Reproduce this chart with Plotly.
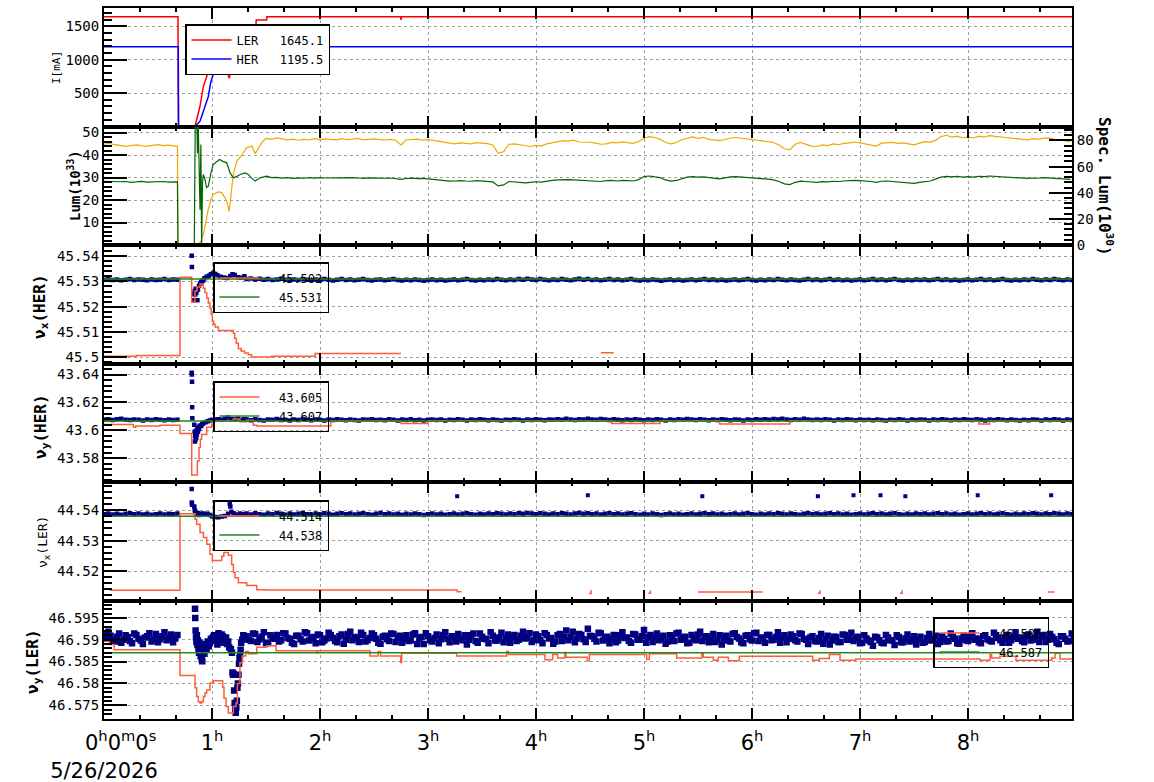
import plotly.graph_objects as go
from plotly.subplots import make_subplots

NB = "\u00a0"


def grid(start, step, n):
    return [round(start + step * i, 3) for i in range(n)]


def unzip(pairs):
    return [p[0] for p in pairs], [p[1] for p in pairs]


# ---------------- time axis (hours) ----------------
T_END = 8.963
hour_vals = [0, 1, 2, 3, 4, 5, 6, 7, 8]
hour_text = [NB * 5 + "0<sup>h</sup>0<sup>m</sup>0<sup>s</sup><br>5/26/2026"] + ["%d<sup>h</sup>" % h for h in hour_vals[1:]]

# ---------------- panel 1 : beam currents [mA] ----------------
ler_t = [0, 0.685, 0.687, 0.69, 0.843, 0.889, 0.92, 0.966, 1.003, 1.034, 1.09, 1.13, 1.16, 1.176, 1.197,
         1.305, 1.307, 1.407, 1.409, 1.506, 1.508, 2.745, 2.75, 2.755, 4.995, 5.0, 5.005, T_END]
ler_v = [1645, 1645, 580, 0, 0, 303, 600, 823, 965, 1000, 1000, 880, 723, 848, 1404,
         1404, 1495, 1495, 1596, 1596, 1645, 1645, 1600, 1645, 1645, 1610, 1645, 1645.1]
her_t = [0, 0.688, 0.69, 0.843, 0.889, 0.926, 0.966, 0.988, 1.012, 1.188, 1.213, 1.244, 1.319, 1.321, T_END]
her_v = [1195.5, 1195.5, 0, 0, 80, 257, 450, 661, 787, 787, 1040, 1130, 1130, 1195.5, 1195.5]

# ---------------- panel 2 : luminosity ----------------
lum_pre = [44.8, 45.2, 44.6, 44.3, 43.9, 44.2, 44.5, 44.1, 44.0, 44.3, 44.6, 44.2, 44.4, 44.0]
lum_burst = [(0.68, 44.0), (0.685, 0.0), (0.873, 0.0), (0.90, 2.0), (0.92, 4.8), (0.94, 9.5), (0.966, 15.9),
             (0.99, 20.0), (1.01, 22.5), (1.06, 23.6), (1.09, 23.3), (1.136, 19.6), (1.16, 14.8), (1.18, 24.0),
             (1.197, 31.4), (1.23, 37.3), (1.27, 39.6), (1.32, 43.3), (1.37, 44.0), (1.40, 40.6), (1.43, 43.3),
             (1.46, 45.5), (1.50, 47.4), (1.55, 47.0), (1.60, 47.6)]
lum_post = [47.2, 46.8, 47.1, 46.6, 47.0, 46.7, 47.3, 46.9, 47.2, 47.0, 46.8, 47.3, 46.9, 47.1, 47.4, 46.8,
            47.0, 47.2, 46.9, 46.7, 47.0, 46.6, 44.5, 46.8, 46.9, 47.1, 46.6, 46.8, 46.5, 46.0, 45.6, 45.3,
            45.0, 45.4, 45.2, 45.0, 45.5, 45.3, 45.1, 44.5, 40.8, 41.5, 44.8, 45.0, 44.6, 44.2, 43.8, 44.3,
            44.0, 45.0, 45.5, 46.0, 46.4, 46.2, 46.6, 45.8, 45.9, 45.7, 45.3, 44.8, 45.0, 45.6, 45.4, 45.9,
            45.5, 45.2, 46.0, 47.5, 48.2, 47.8, 47.0, 45.6, 45.0, 45.6, 46.8, 47.6, 48.1, 47.4, 47.9, 47.0,
            46.8, 46.4, 46.9, 47.6, 47.8, 47.5, 47.2, 46.8, 46.5, 46.4, 46.0, 45.6, 44.5, 42.8, 42.3, 44.8,
            45.6, 44.9, 44.0, 43.8, 44.5, 44.2, 45.0, 44.6, 45.2, 45.4, 45.8, 45.4, 45.0, 44.6, 44.0, 45.3,
            45.5, 45.6, 45.2, 45.4, 45.0, 44.5, 45.3, 46.0, 45.8, 46.5, 48.2, 48.8, 48.0, 48.4, 47.6, 48.0,
            47.6, 48.4, 48.0, 48.6, 48.3, 48.2, 47.8, 47.5, 47.2, 47.0, 46.8, 47.3, 47.0, 47.5, 47.6, 47.0,
            46.9, 46.3, 45.8]
spec_pre = [48.8, 48.5, 48.2, 48.4, 48.6, 48.0, 48.3, 48.7, 48.2, 48.5, 48.3, 48.6, 48.1, 48.4]
spec_burst = [(0.68, 48.3), (0.685, 0.0), (0.836, 0.0), (0.845, 95.0), (0.86, 95.0), (0.865, 70.0), (0.872, 95.0),
              (0.889, 27.0), (0.897, 77.0), (0.904, 0.0), (0.912, 48.0), (0.92, 54.0), (0.935, 50.0), (0.95, 44.0),
              (0.966, 45.0), (0.99, 55.0), (1.01, 61.6), (1.04, 63.5), (1.07, 65.4), (1.10, 64.0), (1.136, 62.9),
              (1.167, 55.2), (1.198, 51.4), (1.23, 52.5), (1.26, 54.0), (1.305, 55.2), (1.336, 54.0), (1.37, 51.0),
              (1.40, 48.9), (1.444, 51.4), (1.506, 52.7), (1.55, 51.6), (1.60, 51.8)]
spec_post = [51.2, 51.6, 51.0, 51.4, 51.1, 51.5, 51.2, 51.6, 51.3, 51.4, 51.0, 51.5, 51.2, 51.6, 51.3, 51.0,
             51.4, 51.2, 51.5, 51.1, 51.3, 50.8, 50.2, 50.9, 51.2, 50.8, 51.0, 50.6, 50.2, 49.6, 49.2, 48.9,
             49.0, 49.3, 49.0, 48.8, 49.2, 49.0, 48.8, 48.3, 45.2, 46.0, 48.6, 48.4, 48.0, 47.6, 48.0, 48.4,
             48.2, 49.0, 49.5, 49.8, 50.1, 50.0, 49.8, 49.5, 49.4, 49.0, 48.8, 48.6, 49.3, 49.5, 49.0, 49.4,
             49.2, 49.0, 50.0, 52.4, 52.8, 52.3, 51.6, 49.8, 48.9, 49.4, 51.0, 52.0, 52.4, 52.0, 52.2, 51.8,
             51.0, 50.6, 51.4, 52.2, 52.3, 52.0, 52.1, 51.6, 51.0, 50.8, 50.4, 49.8, 48.6, 46.8, 46.2, 48.0,
             48.9, 48.6, 48.2, 48.0, 48.5, 48.3, 48.8, 48.6, 49.0, 49.3, 49.4, 49.2, 49.0, 48.6, 48.0, 48.8,
             49.0, 48.6, 48.2, 47.8, 47.6, 47.2, 48.0, 48.6, 49.0, 50.4, 52.0, 52.5, 52.2, 52.6, 52.0, 52.3,
             52.0, 52.6, 52.4, 52.8, 52.5, 52.2, 51.8, 51.6, 51.2, 51.4, 51.0, 51.3, 51.1, 51.5, 51.2, 50.8,
             51.0, 50.6, 50.2]

# ---------------- tune panels : measured tune points ----------------
nux_her_pre = [45.5307, 45.5309, 45.5306, 45.5308, 45.5305, 45.5307, 45.5309, 45.5306, 45.5308, 45.5307,
               45.5305, 45.5308, 45.5306, 45.5307, 45.5309, 45.5306, 45.5308, 45.5307]
nux_her_burst = [(0.812, 45.5401), (0.814, 45.5357), (0.83, 45.5225), (0.835, 45.5250), (0.84, 45.5262),
                 (0.845, 45.5248), (0.85, 45.5271), (0.855, 45.5255), (0.86, 45.5265), (0.865, 45.5225),
                 (0.87, 45.5268), (0.88, 45.5283), (0.89, 45.5292), (0.90, 45.5298), (0.91, 45.5302),
                 (0.92, 45.5305), (0.93, 45.5312), (0.95, 45.5318), (0.97, 45.5322), (0.99, 45.5328),
                 (1.01, 45.5333), (1.03, 45.5329), (1.05, 45.5324), (1.08, 45.5318), (1.11, 45.5315),
                 (1.14, 45.5313), (1.17, 45.5321), (1.19, 45.5328), (1.21, 45.5325), (1.24, 45.5316),
                 (1.27, 45.5314), (1.30, 45.5320)]
nux_her_post = [
    45.5309, 45.5311, 45.5308, 45.5310, 45.5307, 45.5309, 45.5306, 45.5308, 45.5310, 45.5307, 45.5305, 45.5308,
    45.5306, 45.5309, 45.5307, 45.5305, 45.5308, 45.5306, 45.5309, 45.5307, 45.5304, 45.5307, 45.5309, 45.5306,
    45.5308, 45.5305, 45.5307, 45.5309, 45.5306, 45.5304, 45.5307, 45.5308, 45.5305, 45.5307, 45.5309, 45.5306,
    45.5304, 45.5307, 45.5305, 45.5308, 45.5306, 45.5303, 45.5306, 45.5308, 45.5305, 45.5307, 45.5304, 45.5306,
    45.5308, 45.5305, 45.5307, 45.5309, 45.5306, 45.5304, 45.5307, 45.5305, 45.5308, 45.5306, 45.5309, 45.5307,
    45.5305, 45.5308, 45.5306, 45.5309, 45.5307, 45.5310, 45.5308, 45.5306, 45.5309, 45.5307, 45.5305, 45.5308,
    45.5306, 45.5309, 45.5307, 45.5305, 45.5308, 45.5310, 45.5307, 45.5309, 45.5306, 45.5308, 45.5305, 45.5307,
    45.5309, 45.5306, 45.5308, 45.5305, 45.5307, 45.5309, 45.5306, 45.5304, 45.5307, 45.5305, 45.5308, 45.5306,
    45.5303, 45.5306, 45.5308, 45.5305, 45.5307, 45.5304, 45.5306, 45.5308, 45.5305, 45.5307, 45.5309, 45.5306,
    45.5308, 45.5305, 45.5307, 45.5304, 45.5306, 45.5308, 45.5305, 45.5307, 45.5309, 45.5306, 45.5304, 45.5307,
    45.5305, 45.5308, 45.5306, 45.5309, 45.5307, 45.5305, 45.5308, 45.5306, 45.5304, 45.5307, 45.5309, 45.5306,
    45.5308, 45.5305, 45.5307, 45.5309, 45.5306, 45.5308, 45.5305, 45.5307, 45.5304, 45.5306, 45.5308, 45.5305,
    45.5307, 45.5309, 45.5306, 45.5308, 45.5305, 45.5307, 45.5309, 45.5306, 45.5304, 45.5307, 45.5305, 45.5308,
    45.5306, 45.5308, 45.5305, 45.5307, 45.5309, 45.5306, 45.5308, 45.5305, 45.5307, 45.5304, 45.5306, 45.5308,
    45.5305, 45.5307, 45.5309, 45.5306, 45.5308, 45.5305, 45.5307, 45.5309, 45.5306, 45.5304, 45.5307, 45.5305,
    45.5308, 45.5306, 45.5309, 45.5307, 45.5305, 45.5308, 45.5306, 45.5309, 45.5307, 45.5305, 45.5308, 45.5306]

nuy_her_pre = [43.6077, 43.6080, 43.6074, 43.6079, 43.6082, 43.6076, 43.6073, 43.6078, 43.6075, 43.6071,
               43.6077, 43.6074, 43.6079, 43.6076, 43.6072, 43.6078, 43.6074, 43.6076]
nuy_her_burst = [(0.812, 43.6412), (0.813, 43.6400), (0.815, 43.6348), (0.816, 43.6166), (0.818, 43.6086),
                 (0.836, 43.6040), (0.839, 43.5990), (0.842, 43.5920), (0.845, 43.5960), (0.848, 43.5935),
                 (0.851, 43.5985), (0.854, 43.5945), (0.857, 43.6000), (0.86, 43.5970), (0.865, 43.6010),
                 (0.87, 43.5990), (0.875, 43.6025), (0.88, 43.6010), (0.89, 43.6035), (0.90, 43.6030),
                 (0.91, 43.6045), (0.92, 43.6050), (0.94, 43.6058), (0.96, 43.6065), (0.98, 43.6070),
                 (1.00, 43.6075), (1.03, 43.6078), (1.06, 43.6080), (1.09, 43.6075), (1.12, 43.6085),
                 (1.15, 43.6092), (1.18, 43.6080), (1.21, 43.6078), (1.24, 43.6083), (1.27, 43.6076),
                 (1.30, 43.6079)]
nuy_her_post = [
    43.6077, 43.6072, 43.6079, 43.6074, 43.6070, 43.6078, 43.6075, 43.6081, 43.6073, 43.6076, 43.6071, 43.6078,
    43.6074, 43.6080, 43.6076, 43.6072, 43.6078, 43.6075, 43.6070, 43.6077, 43.6073, 43.6079, 43.6076, 43.6072,
    43.6078, 43.6074, 43.6071, 43.6077, 43.6075, 43.6080, 43.6073, 43.6076, 43.6072, 43.6079, 43.6075, 43.6071,
    43.6077, 43.6074, 43.6079, 43.6072, 43.6076, 43.6070, 43.6075, 43.6078, 43.6073, 43.6077, 43.6071, 43.6076,
    43.6073, 43.6079, 43.6075, 43.6071, 43.6078, 43.6074, 43.6080, 43.6076, 43.6072, 43.6078, 43.6074, 43.6070,
    43.6076, 43.6073, 43.6079, 43.6075, 43.6071, 43.6077, 43.6074, 43.6080, 43.6076, 43.6072, 43.6078, 43.6075,
    43.6079, 43.6076, 43.6082, 43.6078, 43.6074, 43.6080, 43.6077, 43.6083, 43.6078, 43.6075, 43.6081, 43.6077,
    43.6073, 43.6079, 43.6076, 43.6072, 43.6078, 43.6074, 43.6080, 43.6076, 43.6072, 43.6077, 43.6074, 43.6079,
    43.6075, 43.6071, 43.6077, 43.6073, 43.6079, 43.6075, 43.6081, 43.6077, 43.6073, 43.6079, 43.6076, 43.6072,
    43.6078, 43.6074, 43.6080, 43.6076, 43.6072, 43.6078, 43.6075, 43.6071, 43.6077, 43.6074, 43.6080, 43.6076,
    43.6079, 43.6075, 43.6081, 43.6077, 43.6083, 43.6078, 43.6074, 43.6080, 43.6076, 43.6082, 43.6078, 43.6074,
    43.6077, 43.6073, 43.6079, 43.6075, 43.6071, 43.6077, 43.6074, 43.6079, 43.6075, 43.6072, 43.6078, 43.6074,
    43.6076, 43.6072, 43.6078, 43.6074, 43.6070, 43.6076, 43.6073, 43.6079, 43.6075, 43.6071, 43.6077, 43.6074,
    43.6078, 43.6075, 43.6071, 43.6077, 43.6073, 43.6079, 43.6076, 43.6072, 43.6078, 43.6074, 43.6080, 43.6076,
    43.6073, 43.6079, 43.6075, 43.6071, 43.6077, 43.6074, 43.6080, 43.6076, 43.6072, 43.6078, 43.6074, 43.6070,
    43.6076, 43.6072, 43.6078, 43.6075, 43.6071, 43.6077, 43.6073, 43.6079, 43.6075, 43.6071, 43.6077, 43.6074]

nux_ler_pre = [44.5387, 44.5389, 44.5386, 44.5388, 44.5385, 44.5388, 44.5390, 44.5387, 44.5389, 44.5386,
               44.5388, 44.5385, 44.5387, 44.5389, 44.5386, 44.5388, 44.5387, 44.5389]
nux_ler_burst = [(0.812, 44.5470), (0.813, 44.5425), (0.815, 44.5418), (0.836, 44.5412), (0.84, 44.5400),
                 (0.845, 44.5395), (0.85, 44.5390), (0.855, 44.5385), (0.86, 44.5392), (0.865, 44.5387),
                 (0.87, 44.5390), (0.88, 44.5384), (0.89, 44.5388), (0.90, 44.5386), (0.92, 44.5389),
                 (0.94, 44.5385), (0.96, 44.5388), (0.98, 44.5384), (1.00, 44.5380), (1.03, 44.5378),
                 (1.06, 44.5377), (1.09, 44.5379), (1.12, 44.5381), (1.15, 44.5388), (1.165, 44.5421),
                 (1.17, 44.5412), (1.18, 44.5395), (1.20, 44.5390), (1.23, 44.5386), (1.26, 44.5389),
                 (1.29, 44.5387)]
nux_ler_post = [
    44.5389, 44.5386, 44.5390, 44.5387, 44.5385, 44.5389, 44.5387, 44.5391, 44.5388, 44.5385, 44.5389, 44.5386,
    44.5388, 44.5391, 44.5387, 44.5385, 44.5389, 44.5386, 44.5390, 44.5388, 44.5385, 44.5388, 44.5390, 44.5387,
    44.5389, 44.5386, 44.5388, 44.5390, 44.5387, 44.5385, 44.5388, 44.5391, 44.5387, 44.5389, 44.5386, 44.5388,
    44.5385, 44.5388, 44.5386, 44.5389, 44.5387, 44.5384, 44.5387, 44.5389, 44.5386, 44.5388, 44.5385, 44.5387,
    44.5389, 44.5386, 44.5388, 44.5390, 44.5387, 44.5385, 44.5388, 44.5386, 44.5389, 44.5387, 44.5390, 44.5388,
    44.5386, 44.5389, 44.5387, 44.5390, 44.5388, 44.5391, 44.5389, 44.5387, 44.5390, 44.5388, 44.5386, 44.5389,
    44.5387, 44.5390, 44.5388, 44.5386, 44.5389, 44.5391, 44.5388, 44.5390, 44.5387, 44.5389, 44.5386, 44.5388,
    44.5390, 44.5387, 44.5389, 44.5386, 44.5388, 44.5390, 44.5387, 44.5385, 44.5388, 44.5386, 44.5389, 44.5387,
    44.5384, 44.5387, 44.5389, 44.5386, 44.5388, 44.5385, 44.5387, 44.5389, 44.5386, 44.5388, 44.5390, 44.5387,
    44.5389, 44.5386, 44.5388, 44.5385, 44.5387, 44.5389, 44.5386, 44.5388, 44.5390, 44.5387, 44.5385, 44.5388,
    44.5386, 44.5389, 44.5387, 44.5390, 44.5388, 44.5386, 44.5389, 44.5387, 44.5385, 44.5388, 44.5390, 44.5387,
    44.5389, 44.5386, 44.5388, 44.5390, 44.5387, 44.5389, 44.5386, 44.5388, 44.5385, 44.5387, 44.5389, 44.5386,
    44.5388, 44.5390, 44.5387, 44.5389, 44.5386, 44.5388, 44.5390, 44.5387, 44.5385, 44.5388, 44.5386, 44.5389,
    44.5387, 44.5389, 44.5386, 44.5388, 44.5390, 44.5387, 44.5389, 44.5386, 44.5388, 44.5385, 44.5387, 44.5389,
    44.5386, 44.5388, 44.5390, 44.5387, 44.5389, 44.5386, 44.5388, 44.5390, 44.5387, 44.5385, 44.5388, 44.5386,
    44.5389, 44.5387, 44.5390, 44.5388, 44.5386, 44.5389, 44.5387, 44.5390, 44.5388, 44.5386, 44.5389, 44.5387]
nux_ler_outliers = [(3.27, 44.5446), (4.48, 44.5449), (5.54, 44.5446), (6.61, 44.5446), (6.94, 44.5449),
                    (7.19, 44.5449), (7.42, 44.5446), (8.09, 44.5449), (8.77, 44.5449)]

nuy_ler_pre = [46.5912, 46.5918, 46.5899, 46.5907, 46.5893, 46.5910, 46.5897, 46.5914, 46.5902, 46.5890,
               46.5908, 46.5896, 46.5913, 46.5901, 46.5917, 46.5904, 46.5894, 46.5911]
nuy_ler_pre_b = [46.5903, 46.5909, 46.5896, 46.5914, 46.5900, 46.5906, 46.5892, 46.5911, 46.5898, 46.5905,
                 46.5915, 46.5901, 46.5894, 46.5908, 46.5899, 46.5912, 46.5903]
nuy_ler_burst = [(0.843, 46.5971), (0.845, 46.5950), (0.848, 46.5921), (0.852, 46.5905), (0.856, 46.5895),
                 (0.86, 46.5910), (0.865, 46.5888), (0.87, 46.5898), (0.875, 46.5880), (0.88, 46.5870),
                 (0.885, 46.5893), (0.89, 46.5878), (0.895, 46.5862), (0.90, 46.5885), (0.905, 46.5855),
                 (0.91, 46.5851), (0.915, 46.5870), (0.92, 46.5883), (0.93, 46.5868), (0.94, 46.5890),
                 (0.95, 46.5878), (0.96, 46.5896), (0.97, 46.5885), (0.98, 46.5892), (0.99, 46.5902),
                 (1.00, 46.5898), (1.01, 46.5906), (1.02, 46.5910), (1.03, 46.5897), (1.04, 46.5900),
                 (1.05, 46.5889), (1.06, 46.5915), (1.07, 46.5903), (1.08, 46.5895), (1.09, 46.5912),
                 (1.10, 46.5908), (1.11, 46.5893), (1.12, 46.5898), (1.13, 46.5905), (1.14, 46.5890),
                 (1.15, 46.5896), (1.16, 46.5882), (1.175, 46.5878),
                 (1.185, 46.5870), (1.19, 46.5825), (1.195, 46.5820), (1.20, 46.5822), (1.205, 46.5784),
                 (1.21, 46.5755), (1.215, 46.5740), (1.22, 46.5733), (1.225, 46.5745), (1.23, 46.5760),
                 (1.235, 46.5790), (1.24, 46.5800), (1.245, 46.5820), (1.25, 46.5845), (1.255, 46.5858),
                 (1.26, 46.5865), (1.265, 46.5877), (1.27, 46.5893), (1.28, 46.5900), (1.29, 46.5910),
                 (1.30, 46.5903)]
nuy_ler_post = [
    46.5908, 46.5897, 46.5913, 46.5901, 46.5917, 46.5893, 46.5905, 46.5911, 46.5899, 46.5914, 46.5902, 46.5890,
    46.5909, 46.5896, 46.5915, 46.5903, 46.5892, 46.5910, 46.5898, 46.5916, 46.5904, 46.5894, 46.5912, 46.5900,
    46.5918, 46.5906, 46.5895, 46.5911, 46.5899, 46.5914, 46.5902, 46.5891, 46.5909, 46.5897, 46.5913, 46.5905,
    46.5893, 46.5910, 46.5898, 46.5915, 46.5903, 46.5890, 46.5908, 46.5896, 46.5912, 46.5901, 46.5917, 46.5894,
    46.5906, 46.5913, 46.5899, 46.5889, 46.5910, 46.5897, 46.5914, 46.5902, 46.5892, 46.5909, 46.5898, 46.5916,
    46.5904, 46.5893, 46.5911, 46.5900, 46.5918, 46.5905, 46.5895, 46.5912, 46.5899, 46.5915, 46.5903, 46.5891,
    46.5910, 46.5897, 46.5921, 46.5906, 46.5894, 46.5913, 46.5901, 46.5925, 46.5908, 46.5896, 46.5915, 46.5902,
    46.5892, 46.5911, 46.5898, 46.5917, 46.5905, 46.5893, 46.5912, 46.5900, 46.5922, 46.5907, 46.5895, 46.5914,
    46.5903, 46.5891, 46.5910, 46.5897, 46.5916, 46.5904, 46.5892, 46.5911, 46.5899, 46.5918, 46.5906, 46.5894,
    46.5913, 46.5901, 46.5889, 46.5909, 46.5896, 46.5915, 46.5903, 46.5892, 46.5910, 46.5898, 46.5916, 46.5904,
    46.5893, 46.5911, 46.5900, 46.5917, 46.5905, 46.5894, 46.5912, 46.5899, 46.5914, 46.5902, 46.5890, 46.5908,
    46.5896, 46.5913, 46.5901, 46.5889, 46.5907, 46.5895, 46.5912, 46.5900, 46.5916, 46.5903, 46.5892, 46.5910,
    46.5898, 46.5886, 46.5905, 46.5893, 46.5911, 46.5899, 46.5888, 46.5906, 46.5894, 46.5912, 46.5900, 46.5889,
    46.5907, 46.5895, 46.5913, 46.5901, 46.5890, 46.5908, 46.5896, 46.5914, 46.5902, 46.5891, 46.5909, 46.5897,
    46.5915, 46.5903, 46.5892, 46.5910, 46.5898, 46.5916, 46.5904, 46.5893, 46.5911, 46.5899, 46.5917, 46.5905,
    46.5894, 46.5912, 46.5900, 46.5918, 46.5906, 46.5895, 46.5913, 46.5901, 46.5890, 46.5908, 46.5896, 46.5914]
nuy_ler_post_b = [
    46.5900, 46.5914, 46.5895, 46.5907, 46.5892, 46.5910, 46.5902, 46.5896, 46.5915, 46.5904, 46.5893, 46.5909,
    46.5901, 46.5917, 46.5898, 46.5906, 46.5912, 46.5894, 46.5903, 46.5911, 46.5897, 46.5908, 46.5891, 46.5913,
    46.5899, 46.5905, 46.5916, 46.5896, 46.5904, 46.5910, 46.5893, 46.5907, 46.5901, 46.5914, 46.5895, 46.5909,
    46.5903, 46.5897, 46.5912, 46.5890, 46.5906, 46.5915, 46.5899, 46.5904, 46.5892, 46.5911, 46.5902, 46.5908,
    46.5896, 46.5903, 46.5910, 46.5900, 46.5914, 46.5893, 46.5907, 46.5901, 46.5917, 46.5898, 46.5905, 46.5894,
    46.5912, 46.5906, 46.5897, 46.5909, 46.5903, 46.5915, 46.5899, 46.5908, 46.5892, 46.5911, 46.5904, 46.5896,
    46.5913, 46.5906, 46.5899, 46.5918, 46.5903, 46.5911, 46.5895, 46.5909, 46.5902, 46.5916, 46.5898, 46.5907,
    46.5901, 46.5894, 46.5910, 46.5904, 46.5897, 46.5913, 46.5900, 46.5908, 46.5893, 46.5911, 46.5905, 46.5899,
    46.5909, 46.5896, 46.5906, 46.5914, 46.5900, 46.5907, 46.5893, 46.5903, 46.5912, 46.5897, 46.5908, 46.5901,
    46.5895, 46.5910, 46.5903, 46.5898, 46.5913, 46.5906, 46.5894, 46.5909, 46.5901, 46.5915, 46.5897, 46.5905,
    46.5911, 46.5899, 46.5906, 46.5893, 46.5910, 46.5902, 46.5908, 46.5896, 46.5913, 46.5900, 46.5905, 46.5897,
    46.5904, 46.5891, 46.5909, 46.5898, 46.5906, 46.5895, 46.5911, 46.5902, 46.5897, 46.5907, 46.5893, 46.5903,
    46.5895, 46.5907, 46.5899, 46.5892, 46.5905, 46.5898, 46.5910, 46.5894, 46.5903, 46.5896, 46.5908, 46.5900,
    46.5893, 46.5904, 46.5898, 46.5909, 46.5895, 46.5902, 46.5897, 46.5906, 46.5892, 46.5903, 46.5899, 46.5907,
    46.5900, 46.5894, 46.5908, 46.5901, 46.5896, 46.5910, 46.5899, 46.5905, 46.5893, 46.5907, 46.5902, 46.5897,
    46.5909, 46.5898, 46.5904, 46.5895, 46.5911, 46.5900, 46.5906, 46.5893, 46.5908, 46.5902, 46.5897, 46.5905]

# ---------------- tune panels : set / reference tunes (step lines) ----------------
red3_t = [0, 0.30, 0.704, 0.812, 0.843, 0.86, 0.889, 0.92, 0.935, 0.951, 0.966, 0.981, 0.992, 1.003, 1.015,
          1.028, 1.059, 1.198, 1.21, 1.225, 1.244, 1.27, 1.30, 1.336, 1.367, 1.552, 1.954, 2.75, None, 4.60, 4.72]
red3_v = [45.5004, 45.5007, 45.5316, 45.5218, 45.5262, 45.5278, 45.5290, 45.5273, 45.5255, 45.5234, 45.5215,
          45.5194, 45.5170, 45.5142, 45.5130, 45.5120, 45.5106, 45.5095, 45.5075, 45.5055, 45.5035, 45.5025,
          45.5017, 45.5010, 45.5001, 45.5004, 45.5015, 45.5015, None, 45.5018, 45.5018]
red4_t = [0, 0.272, 0.293, 0.519, 0.704, 0.812, 0.864, 0.880, 0.892, 0.904, 0.951, 0.997, 1.012, 1.198, 1.259,
          1.321, 1.383, 1.414, 2.10, 2.75, 3.00, 4.70, 5.15, 5.70, 6.35, 8.10, 8.20, T_END]
red4_v = [43.6041, 43.6022, 43.6030, 43.6036, 43.5976, 43.5679, 43.5780, 43.5876, 43.5935, 43.5970, 43.6022,
          43.6055, 43.6066, 43.6081, 43.6062, 43.6072, 43.6036, 43.6030, 43.6066, 43.6048, 43.6068, 43.6048,
          43.6068, 43.6045, 43.6068, 43.6045, 43.6066, 43.6066]
red5_t = [0, 0.06, 0.704, 0.843, 0.858, 0.889, 0.92, 0.951, 0.981, 1.003, 1.09, 1.11, 1.151, 1.182, 1.198,
          1.213, 1.244, 1.321, 1.414, 1.506, 3.27, 3.31, None, 4.49, 4.51, None, 5.04, 5.06, None, 5.50, 6.10,
          None, 6.61, 6.63, None, 7.37, 7.39, None, 8.74, 8.80]
red5_v = [44.5141, 44.5137, 44.5388, 44.5370, 44.5354, 44.5327, 44.5310, 44.5288, 44.5255, 44.5235, 44.5249,
          44.5261, 44.5252, 44.5222, 44.5195, 44.5178, 44.5162, 44.5153, 44.5139, 44.5138, 44.5132, 44.5132,
          None, 44.5126, 44.5138, None, 44.5127, 44.5137, None, 44.5131, 44.5131, None, 44.5127, 44.5137,
          None, 44.5127, 44.5137, None, 44.5131, 44.5131]
red6_t = [0, 0.05, 0.094, 0.704, 0.843, 0.858, 0.873, 0.889, 0.904, 0.92, 0.935, 0.951, 0.981, 1.012, 1.099,
          1.111, 1.130, 1.151, 1.167, 1.198, 1.222, 1.235, 1.259, 1.281, 1.312, 1.336, 1.414, 1.506, 1.593,
          1.969, 1.985, 2.463, 2.54, 2.562, 2.747, 2.756, 3.265, 3.728, 3.744, 4.083, 4.154, 4.2, 4.267, 4.277,
          4.475, 4.494, 5.025, 5.049, 5.302, 5.534, 5.549, 5.642, 5.688, 5.781, 5.883, 6.562, 6.623, 6.716,
          6.815, 6.960, 8.111, 8.204, 8.219, 8.296, 8.444, 8.775, 8.806, 8.852, T_END]
red6_v = [46.5897, 46.5889, 46.5877, 46.5818, 46.5790, 46.5770, 46.5758, 46.5755, 46.5758, 46.5770, 46.5778,
          46.5785, 46.5801, 46.5806, 46.5791, 46.5766, 46.5747, 46.5732, 46.5732, 46.5747, 46.5755, 46.5800,
          46.5847, 46.5863, 46.5873, 46.5868, 46.5883, 46.5886, 46.5875, 46.5870, 46.5875, 46.5863, 46.5873,
          46.5863, 46.5848, 46.5869, 46.5863, 46.5873, 46.5866, 46.5854, 46.5866, 46.5858, 46.5871, 46.5860,
          46.5852, 46.5866, 46.5855, 46.5868, 46.5858, 46.5868, 46.5860, 46.5853, 46.5860, 46.5852, 46.5862,
          46.5853, 46.5857, 46.5866, 46.5853, 46.5856, 46.5853, 46.5866, 46.5858, 46.5862, 46.5853, 46.5858,
          46.5869, 46.5856, 46.5856]
ref_t = [0, T_END]
green3_v = [45.5309, 45.5309]
green4_v = [43.6066, 43.6066]
green5_v = [44.5380, 44.5380]
green6_v = [46.5870, 46.5870]

legend_names = {
    "ler": "LER" + NB * 3 + "1645.1", "her": "HER" + NB * 3 + "1195.5",
    "r3": NB * 2 + "45.502", "g3": NB * 2 + "45.531",
    "r4": NB * 2 + "43.605", "g4": NB * 2 + "43.607",
    "r5": NB * 2 + "44.514", "g5": NB * 2 + "44.538",
    "r6": NB * 2 + "46.586", "g6": NB * 2 + "46.587",
}

# ---------------- styling constants ----------------
C_RED = "#ff0000"
C_BLUE = "#0000ff"
C_ORANGE = "#f0a800"
C_DGREEN = "#006400"
C_NAVY = "#000080"
C_TOMATO = "#ff5c3c"
C_GREEN = "#1f8a1f"
GRID = "#a0a0a0"
MONO = "DejaVu Sans Mono"

fig = make_subplots(rows=6, cols=1, shared_xaxes=True, vertical_spacing=0,
                    specs=[[{}], [{"secondary_y": True}], [{}], [{}], [{}], [{}]])

# panel 1
fig.add_trace(go.Scatter(x=ler_t, y=ler_v, mode="lines", line=dict(color=C_RED, width=1.5),
                         name=legend_names["ler"], legend="legend"), row=1, col=1)
fig.add_trace(go.Scatter(x=her_t, y=her_v, mode="lines", line=dict(color=C_BLUE, width=1.5),
                         name=legend_names["her"], legend="legend"), row=1, col=1)

# panel 2
lb_t, lb_v = unzip(lum_burst)
lum_t = grid(0, 0.05, len(lum_pre)) + lb_t + grid(1.65, 0.05, len(lum_post))
lum_v = lum_pre + lb_v + lum_post
sb_t, sb_v = unzip(spec_burst)
spec_t = grid(0, 0.05, len(spec_pre)) + sb_t + grid(1.65, 0.05, len(spec_post))
spec_v = spec_pre + sb_v + spec_post
fig.add_trace(go.Scatter(x=lum_t, y=lum_v, mode="lines", line=dict(color=C_ORANGE, width=1.2),
                         showlegend=False), row=2, col=1, secondary_y=False)
fig.add_trace(go.Scatter(x=spec_t, y=spec_v, mode="lines", line=dict(color=C_DGREEN, width=1.2),
                         showlegend=False), row=2, col=1, secondary_y=True)


def tune_points(pre, burst, post):
    bt, bv = unzip(burst)
    t = grid(0, 0.04, len(pre)) + bt + grid(1.32, 0.04, len(post))
    return t, pre + bv + post


panels = [
    (3, nux_her_pre, nux_her_burst, nux_her_post, red3_t, red3_v, green3_v, "r3", "g3", "legend2", 4.5),
    (4, nuy_her_pre, nuy_her_burst, nuy_her_post, red4_t, red4_v, green4_v, "r4", "g4", "legend3", 4.5),
    (5, nux_ler_pre, nux_ler_burst, nux_ler_post, red5_t, red5_v, green5_v, "r5", "g5", "legend4", 4.5),
    (6, nuy_ler_pre, nuy_ler_burst, nuy_ler_post, red6_t, red6_v, green6_v, "r6", "g6", "legend5", 6.5),
]
for row, pre, burst, post, rt, rv, gv, rk, gk, leg, msize in panels:
    pt, pv = tune_points(pre, burst, post)
    if row == 6:
        pt = pt + grid(0.02, 0.04, len(nuy_ler_pre_b)) + grid(1.34, 0.04, len(nuy_ler_post_b))
        pv = pv + nuy_ler_pre_b + nuy_ler_post_b
    fig.add_trace(go.Scatter(x=pt, y=pv, mode="markers",
                             marker=dict(symbol="square", size=msize, color=C_NAVY, line=dict(width=0)),
                             showlegend=False), row=row, col=1)
    if row == 5:
        ot, ov = unzip(nux_ler_outliers)
        fig.add_trace(go.Scatter(x=ot, y=ov, mode="markers",
                                 marker=dict(symbol="square", size=4, color=C_NAVY, line=dict(width=0)),
                                 showlegend=False), row=row, col=1)
    fig.add_trace(go.Scatter(x=rt, y=rv, mode="lines", line=dict(color=C_TOMATO, width=1.5, shape="hv"),
                             connectgaps=False, name=legend_names[rk], legend=leg), row=row, col=1)
    fig.add_trace(go.Scatter(x=ref_t, y=gv, mode="lines", line=dict(color=C_GREEN, width=1.5),
                             name=legend_names[gk], legend=leg), row=row, col=1)

# ---------------- axes ----------------
xcommon = dict(range=[0, T_END], domain=[0, 1], tickmode="array", tickvals=hour_vals, ticktext=hour_text,
               showgrid=True, gridcolor=GRID, griddash="3px,3px", gridwidth=1, automargin=False,
               ticks="inside", ticklen=11, tickwidth=2, tickcolor="black",
               minor=dict(tickmode="linear", tick0=0, dtick=1 / 3, ticks="inside", ticklen=4, tickwidth=1.5,
                          tickcolor="black", showgrid=False),
               showline=True, linewidth=2, linecolor="black", mirror="ticks", zeroline=False)
for r in range(1, 7):
    fig.update_xaxes(xcommon, row=r, col=1)
fig.update_xaxes(showticklabels=True, tickfont=dict(family="DejaVu Sans", size=21, color="black"),
                 ticklabelstandoff=4, row=6, col=1)


def ycfg(rng, vals, texts, mdt, m0, grid_on=True):
    return dict(range=rng, tickmode="array", tickvals=vals, ticktext=texts, showgrid=grid_on,
                gridcolor=GRID, griddash="3px,3px", gridwidth=1, automargin=False,
                ticks="inside", ticklen=23, tickwidth=2, tickcolor="black",
                minor=dict(tickmode="linear", tick0=m0, dtick=mdt, ticks="inside", ticklen=8, tickwidth=1.5,
                           tickcolor="black", showgrid=False),
                showline=True, linewidth=2, linecolor="black", mirror=True, zeroline=False,
                tickfont=dict(family=MONO, size=14, color="black"))


fig.update_yaxes(ycfg([0, 1777], [500, 1000, 1500], ["500", "1000", "1500"], 100, 0), row=1, col=1)
fig.update_yaxes(ycfg([0, 52.7], [10, 20, 30, 40, 50], ["10", "20", "30", "40", "50"], 2, 0),
                 row=2, col=1, secondary_y=False)
fig.update_yaxes(ycfg([0, 90.7], [0, 20, 40, 60, 80], ["0", "20", "40", "60", "80"], 4, 0, grid_on=False),
                 row=2, col=1, secondary_y=True)
fig.update_yaxes(mirror=False, row=2, col=1, secondary_y=True)
fig.update_yaxes(ycfg([45.49752, 45.5444], [45.50, 45.51, 45.52, 45.53, 45.54],
                      ["45.5", "45.51", "45.52", "45.53", "45.54"], 0.002, 45.5), row=3, col=1)
fig.update_yaxes(ycfg([43.5629, 43.6479], [43.58, 43.60, 43.62, 43.64],
                      ["43.58", "43.6", "43.62", "43.64"], 0.004, 43.58), row=4, col=1)
fig.update_yaxes(ycfg([44.51033, 44.54927], [44.52, 44.53, 44.54],
                      ["44.52", "44.53", "44.54"], 0.002, 44.51), row=5, col=1)
fig.update_yaxes(ycfg([46.57185, 46.59898], [46.575, 46.58, 46.585, 46.59, 46.595],
                      ["46.575", "46.58", "46.585", "46.59", "46.595"], 0.001, 46.57), row=6, col=1)

# ---------------- legends ----------------
PL, PR, PT, PB = 104, 1072, 8, 719


def px_x(px):
    return (px - PL) / (PR - PL)


def px_y(py):
    return (PB - py) / (PB - PT)


legbase = dict(font=dict(family=MONO, size=12, color="black"), bordercolor="black", borderwidth=1.5,
               xanchor="left", yanchor="top", itemwidth=40, tracegroupgap=0, traceorder="normal",
               bgcolor="rgba(255,255,255,0)")
fig.update_layout(
    legend=dict(legbase, x=px_x(185), y=px_y(24), bgcolor="white"),
    legend2=dict(legbase, x=px_x(213), y=px_y(262)),
    legend3=dict(legbase, x=px_x(213), y=px_y(381)),
    legend4=dict(legbase, x=px_x(213), y=px_y(500)),
    legend5=dict(legbase, x=px_x(933), y=px_y(617)),
)

# ---------------- axis titles ----------------
titles = [
    ("I[mA]", 57, 68, 11, -90),
    ("<b>Lum(10<sup>33</sup>)</b>", 74, 186, 14, -90),
    ("<b>Spec. Lum(10<sup>30</sup>)</b>", 1106, 186, 16, 90),
    ("<b>ν<sub>x</sub>(HER)</b>", 41, 306, 16, -90),
    ("<b>ν<sub>y</sub>(HER)</b>", 41, 426, 16, -90),
    ("ν<sub>x</sub>(LER)", 43, 542, 13, -90),
    ("<b>ν<sub>y</sub>(LER)</b>", 33, 662, 16, -90),
]
for text, px, py, size, ang in titles:
    fig.add_annotation(text=text, x=px_x(px), y=px_y(py), xref="paper", yref="paper", showarrow=False,
                       textangle=ang, xanchor="center", yanchor="middle",
                       font=dict(family=MONO, size=size, color="black"))

fig.update_layout(width=1154, height=782, margin=dict(l=PL, r=1154 - PR, t=PT, b=782 - PB, autoexpand=False),
                  paper_bgcolor="white", plot_bgcolor="white", hovermode=False)

fig.write_html("out.html")
